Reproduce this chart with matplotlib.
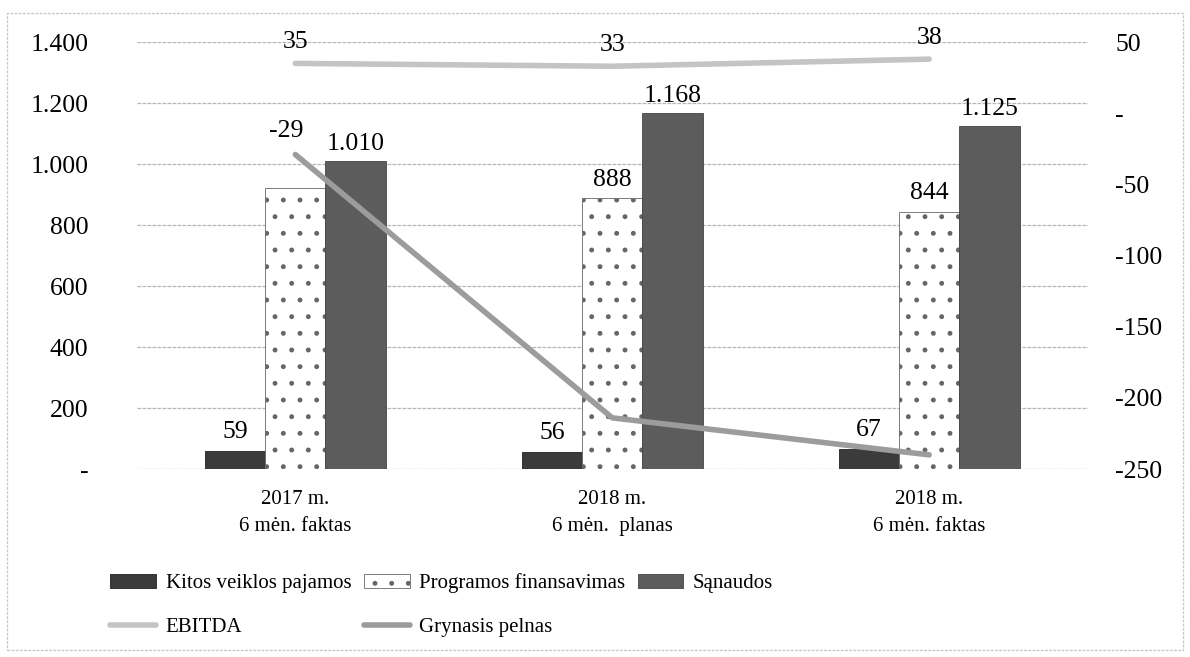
import matplotlib.pyplot as plt
import numpy as np
from matplotlib.patches import Rectangle

plt.rcParams['font.family'] = ['Liberation Serif', 'DejaVu Serif']
plt.rcParams['hatch.linewidth'] = 1.1

# data
categories = ["2017 m.\n6 mėn. faktas", "2018 m.\n6 mėn.  planas", "2018 m.\n6 mėn. faktas"]
kitos = [59, 56, 67]
programos = [920, 888, 844]
sanaudos = [1010, 1168, 1125]
ebitda = [35, 33, 38]
grynasis = [-29, -214, -240]

NUM_FS = 18.5
TXT_FS = 15

def fmt_thousands(v):
    if v == 0:
        return "-"
    return f"{v:,.0f}".replace(",", ".")

fig = plt.figure(figsize=(11.9, 6.57), dpi=100)
ax = fig.add_axes([0.115, 0.286, 0.799, 0.65])
ax2 = ax.twinx()

x = np.arange(len(categories))
w = 0.19

b1 = ax.bar(x - w, kitos, w, color="#3b3b3b", edgecolor="#222222", linewidth=0.6, zorder=3)
b2 = ax.bar(x, programos, w, color="white", edgecolor="#666666", hatch=".", linewidth=0.6, zorder=3)
b3 = ax.bar(x + w, sanaudos, w, color="#5c5c5c", edgecolor="#444444", linewidth=0.6, zorder=3)

# bar labels (the programos value in the first group is not printed)
for xi, v in zip(x - w, kitos):
    ax.text(xi, v + 25, fmt_thousands(v), ha="center", va="bottom", fontsize=NUM_FS)
for i, (xi, v) in enumerate(zip(x, programos)):
    if i > 0:
        ax.text(xi, v + 25, fmt_thousands(v), ha="center", va="bottom", fontsize=NUM_FS)
for xi, v in zip(x + w, sanaudos):
    ax.text(xi, v + 20, fmt_thousands(v), ha="center", va="bottom", fontsize=NUM_FS)

l1, = ax2.plot(x, ebitda, color="#c4c4c4", linewidth=4, solid_capstyle="round", zorder=4)
l2, = ax2.plot(x, grynasis, color="#9c9c9c", linewidth=4, solid_capstyle="round", zorder=4)

for xi, v in zip(x, ebitda):
    ax2.text(xi, v + 7, str(v), ha="center", va="bottom", fontsize=NUM_FS)
ax2.text(x[0] - 0.03, grynasis[0] + 9, str(grynasis[0]), ha="center", va="bottom", fontsize=NUM_FS)

ax.set_xlim(-0.5, 2.5)
ax.set_ylim(0, 1400)
ax2.set_ylim(-250, 50)
ax.set_yticks(np.arange(0, 1401, 200))
ax.set_yticklabels([fmt_thousands(v) for v in range(0, 1401, 200)])
ax2.set_yticks(np.arange(-250, 51, 50))
ax2.set_yticklabels([fmt_thousands(v) for v in range(-250, 51, 50)])
ax.set_xticks(x)
ax.set_xticklabels(categories, fontsize=TXT_FS, linespacing=1.6)

ax.grid(axis="y", color="#b5b5b5", linewidth=0.9, linestyle=(0, (3, 1)), zorder=0)
ax.tick_params(axis="y", length=0, labelsize=NUM_FS, pad=35)
ax2.tick_params(axis="y", length=0, labelsize=NUM_FS, pad=20)
ax.tick_params(axis="x", length=0, pad=15)
for a in (ax, ax2):
    for s in a.spines.values():
        s.set_visible(False)
ax.set_zorder(ax2.get_zorder() - 1)
ax.patch.set_visible(False)

handles = [b1, l1, b2, l2, b3]
labels = ["Kitos veiklos pajamos", "EBITDA", "Programos finansavimas", "Grynasis pelnas", "Sąnaudos"]
fig.legend(handles, labels, ncol=3, loc="lower left", bbox_to_anchor=(0.077, 0.002),
           frameon=False, fontsize=TXT_FS, handlelength=2.2, handletextpad=0.45,
           columnspacing=0.6, labelspacing=1.15)

# light frame around the chart area
fig.patches.append(Rectangle((0.006, 0.01), 0.988, 0.97, transform=fig.transFigure,
                             fill=False, edgecolor="#c8c8c8", linewidth=1, linestyle=(0, (2, 1))))

fig.savefig("out.png", dpi=100)
